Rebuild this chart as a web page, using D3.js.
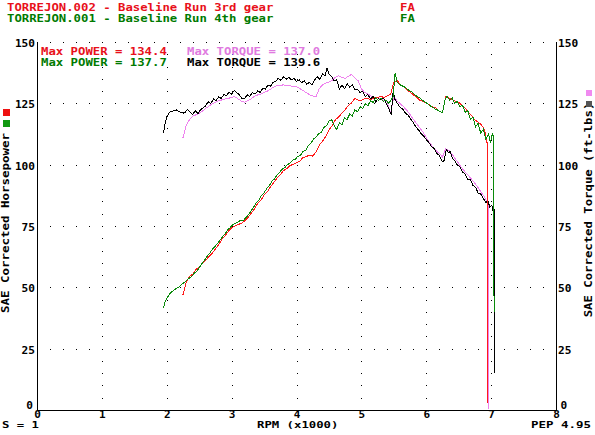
<!DOCTYPE html>
<html><head><meta charset="utf-8">
<script src="https://cdn.jsdelivr.net/npm/d3@7"></script>
<style>
body{margin:0;background:#fff}
svg{display:block}
text{font-family:"DejaVu Sans Mono",monospace;font-weight:bold}
</style>
</head><body>
<svg id="c" width="595" height="435"></svg>
<script>
// ---------- data ----------
const titles = ["TORREJON.002 - Baseline Run 3rd gear", "TORREJON.001 - Baseline Run 4th gear"];
const maxPower = ["Max POWER = 134.4", "Max POWER = 137.7"];
const maxTorque = ["Max TORQUE = 137.0", "Max TORQUE = 139.6"];
const xTicks = [0,1,2,3,4,5,6,7,8];
const yTicks = [0,25,50,75,100,125,150];

// 3rd gear (TORREJON.002)
const rpm3 = [2.25,2.30,2.35,2.40,2.45,2.50,2.55,2.60,2.65,2.70,
  2.75,2.80,2.85,2.90,2.95,3.00,3.05,3.10,3.15,3.20,
  3.25,3.30,3.35,3.40,3.45,3.50,3.55,3.60,3.65,3.70,
  3.75,3.80,3.85,3.90,3.95,4.00,4.05,4.10,4.15,4.20,
  4.25,4.30,4.35,4.40,4.45,4.50,4.55,4.60,4.65,4.70,
  4.75,4.80,4.85,4.90,4.95,5.00,5.05,5.10,5.15,5.20,
  5.25,5.30,5.35,5.40,5.45,5.50,5.55,5.60,5.65,5.70,
  5.75,5.80,5.85,5.90,5.95,6.00,6.05,6.10,6.15,6.20,
  6.25,6.30,6.35,6.40,6.45,6.50,6.55,6.60,6.65,6.70,
  6.75,6.80,6.85,6.90];
const hp3 = [47,52,54.5,55.3,57.2,58.4,59.8,60.9,62.6,63.9,
  65.7,67.4,69.5,71.1,72.8,74.3,74.9,75.6,76.1,77.1,
  78.4,80.1,81.9,84.1,85.4,87.6,88.9,91.1,92.7,94.6,
  95.9,97.6,98.4,99.6,100.2,100.7,101.4,102.9,103.3,103.9,
  103.5,105.1,107.9,109.6,111.4,114.1,115.9,118.3,119.4,121.1,
  122.4,124.1,125.2,127.1,126.3,126.3,126.9,126.9,126.6,127.3,
  127.4,127.9,127.3,128,128.7,133.6,134.3,132.7,131.9,130.5,
  129.6,128.5,127.6,126.2,125.9,125.1,124.4,123.5,123.1,121.9,
  121.1,127.6,127.1,126.6,125.9,125.4,124.3,123.1,121.3,119.9,
  118.3,117.3,116.3,114.2];
const hp3TailRpm = [6.93,6.94,6.94];
const hp3Tail = [109.5,108.8,3];
const tq3 = [111,116,118.3,119.8,120.3,121,121.8,123,123.8,124.8,
  125.5,126,126.4,126.8,127,127.5,127.7,126.8,125.9,125.5,
  126.2,126.8,127.8,128.4,128.8,129.4,130,130.8,131.6,132.2,
  132.4,132.5,132.3,132.1,132,131.8,131,130.2,129.4,128.5,
  128,127.6,131,132.5,133.2,133.6,134.4,135.6,136.2,135.6,
  135.2,136,136.8,135.4,134.2,131,129.4,128.8,128,127.4,
  127.2,126.8,126.2,125.4,121,127.5,126,124.8,123.6,122.2,
  120.5,118.5,116.8,115,113.2,111,108.8,107.4,105.8,104.6,
  103.2,106.5,105.8,104.2,102.2,100.5,98.6,97,95.6,94,
  92.4,90.6,88.6,86.8];
const tq3TailRpm = [6.94,6.96,6.965];
const tq3Tail = [84.5,83,0.5];

// 4th gear (TORREJON.001)
const rpmTq4 = [1.95,1.97,2.00,2.05,2.10,2.15,2.20,2.25,2.28,2.32,
  2.36,2.40,2.44,2.48,2.52,2.56,2.60,2.64,2.68,2.72,
  2.76,2.80,2.84,2.88,2.92,2.96,3.00,3.04,3.08,3.12,
  3.16,3.20,3.24,3.28,3.32,3.36,3.40,3.44,3.48,3.52,
  3.56,3.60,3.64,3.68,3.72,3.76,3.80,3.84,3.88,3.92,
  3.96,4.00,4.04,4.08,4.12,4.16,4.20,4.24,4.28,4.32,
  4.36,4.40,4.44,4.47,4.50,4.54,4.58,4.62,4.66,4.70,
  4.74,4.78,4.82,4.86,4.90,4.94,4.98,5.02,5.06,5.10,
  5.14,5.18,5.22,5.26,5.30,5.34,5.38,5.42,5.46,5.49,
  5.52,5.56,5.60,5.64,5.68,5.72,5.76,5.80,5.84,5.88,
  5.92,5.96,6.00,6.04,6.08,6.12,6.16,6.20,6.24,6.27,
  6.31,6.34,6.37,6.40,6.44,6.48,6.52,6.56,6.60,6.64,
  6.68,6.72,6.76,6.80,6.84,6.88,6.92,6.95,6.98,7.01,
  7.03,7.04,7.05,7.05];
const tq4 = [112.8,116,119.6,121.6,121.9,122.3,121.5,121,121.2,122.5,
  121.5,120.4,122,120.8,122.4,123.2,124,125.6,125,126.8,
  126.2,127.6,127,128.6,128.2,129.4,128.8,130.2,129.4,128.4,
  127,126.8,128.5,127.8,129.4,128.8,130,129.5,131,130.8,
  132.4,132,133.6,134,135.2,134.4,135.8,134.8,135.6,134.6,
  135.2,134,134.6,133.4,134.2,132.8,133.6,132.4,134.6,135.8,
  134.8,137,136.2,139.4,137,136,134.2,134.6,130.8,132.4,
  131,133,131.6,132.6,130.4,130.8,129.4,130,127.8,128.6,
  126.8,127.8,125.6,127,126.4,127.2,125,123,120.3,130,
  126.4,124.8,123.2,122.6,121,120.2,118.6,117.2,115.4,114.2,
  112.6,111.6,110.2,109,107.4,106.6,104.6,103.8,101.6,101.2,
  106.2,104.8,105.4,102.8,101.6,99.8,99.2,97,96.2,94,
  93.8,91.6,90.8,88.4,88,86.2,84.6,85.4,82.6,83.4,
  81.2,82,81.5,15];
const rpmHp4 = [1.95,1.98,2.02,2.06,2.10,2.14,2.18,2.22,2.26,2.30,
  2.34,2.38,2.42,2.46,2.50,2.54,2.58,2.62,2.66,2.70,
  2.74,2.78,2.82,2.86,2.90,2.94,2.98,3.02,3.06,3.10,
  3.14,3.18,3.22,3.26,3.30,3.34,3.38,3.42,3.46,3.50,
  3.54,3.58,3.62,3.66,3.70,3.74,3.78,3.82,3.86,3.90,
  3.94,3.98,4.02,4.06,4.10,4.14,4.18,4.22,4.26,4.30,
  4.34,4.38,4.42,4.46,4.50,4.54,4.58,4.62,4.66,4.70,
  4.74,4.78,4.82,4.86,4.90,4.94,4.98,5.02,5.06,5.10,
  5.14,5.18,5.22,5.26,5.30,5.34,5.38,5.42,5.46,5.49,
  5.52,5.55,5.58,5.62,5.66,5.70,5.74,5.78,5.82,5.86,
  5.90,5.94,5.98,6.02,6.06,6.10,6.14,6.18,6.22,6.25,
  6.29,6.32,6.36,6.40,6.44,6.48,6.52,6.56,6.60,6.64,
  6.68,6.72,6.76,6.80,6.84,6.88,6.92,6.96,6.99,7.02,
  7.04,7.045];
const hp4 = [41.6,44.5,46.3,47.8,48.6,49.4,50,51,51.8,52.6,
  53.6,54.4,55.6,56.5,58,59.6,61,62.6,63.8,65.4,
  66.6,67.8,69.2,70.6,71.8,73.4,74.4,75.6,76.2,76.6,
  77.4,77.2,78.4,79.6,81.2,82.8,84.4,85.6,87.4,88.6,
  90.2,91.4,93.2,94.2,95.8,96.8,98.2,98.8,100,100.6,
  101.8,102.2,103.4,103.8,105.4,105.8,107.6,108.6,110.4,111.2,
  112.6,113.2,115.2,115.8,117.8,118.4,116,114.2,117,116.2,
  119,118.4,120.6,119.8,122.4,121.6,123.6,122.8,124.8,124,
  126,125.4,127.2,126.2,127,125.8,126.4,125,126.4,127.8,
  137.4,133.6,132.8,132.2,131.8,131,130.2,129.6,128.6,127.8,
  127.2,126.2,125.6,124.8,124,123.4,122.6,122.2,121.6,121.2,
  126.4,127.8,126.4,127.2,125,125.8,123.6,124.2,121.4,122,
  118.6,119.4,115.4,116.8,112.8,114.4,110.4,112.6,108.8,113,
  110.6,40];

// ---------- layout ----------
const svg = d3.select("#c");
const x = d3.scaleLinear().domain([0,8]).range([37,556]);
const y = d3.scaleLinear().domain([0,150]).range([410,42]);
const CW = 7.4; // character cell width
const RED="#e8101a", GREEN="#007a00", PINK="#e07ae0", BLACK="#000";
const LRED="#ff1a1a", LGREEN="#0a8a0a", LPINK="#ee82ee";

function txt(str, xx, yy, color, size, anchor, cw){
  return svg.append("text").attr("x",xx).attr("y",yy).attr("fill",color)
    .attr("font-size",size).attr("text-anchor",anchor||"start")
    .attr("textLength",str.length*(cw||CW)).attr("lengthAdjust","spacingAndGlyphs")
    .text(str);
}

// grid dots
const gGrid = svg.append("g").attr("fill","#000");
const rowLevels = yTicks.filter(v=>v>0);
const rowX = d3.range(1,40).map(i=>i/5);
rowLevels.forEach(v=>{
  rowX.forEach(r=>{
    gGrid.append("rect").attr("x",Math.round(x(r))).attr("y",Math.round(y(v))).attr("width",1).attr("height",1);
  });
});
const colX = [1,2,3,4,5,6,7];
const colY = d3.range(1,30).map(i=>i*5);
colX.forEach(r=>{
  colY.forEach(v=>{
    gGrid.append("rect").attr("x",Math.round(x(r))).attr("y",Math.round(y(v))).attr("width",1).attr("height",1);
  });
});

// axes lines
svg.append("line").attr("x1",x(0)+0.5).attr("x2",x(0)+0.5).attr("y1",y(150)).attr("y2",y(0)).attr("stroke","#000");
svg.append("line").attr("x1",x(8)+0.5).attr("x2",x(8)+0.5).attr("y1",y(150)).attr("y2",y(0)).attr("stroke","#000");
svg.append("line").attr("x1",x(0)).attr("x2",x(8)+1).attr("y1",y(0)+0.5).attr("y2",y(0)+0.5).attr("stroke","#000");

// tick labels via d3 axes
const gx = svg.append("g").attr("transform",`translate(0,${y(0)})`)
  .call(d3.axisBottom(x).tickValues(xTicks).tickSize(0).tickFormat(d3.format("d")));
gx.select(".domain").remove();
gx.selectAll("text").attr("y",7.5).attr("dy",0).attr("font-size",11)
  .attr("font-family","DejaVu Sans Mono").attr("font-weight","bold").attr("fill","#000");

const gl = svg.append("g").attr("transform",`translate(${x(0)},0)`)
  .call(d3.axisLeft(y).tickValues(yTicks).tickSize(0).tickPadding(2));
gl.select(".domain").remove();
gl.selectAll("text").attr("dy",0).attr("y",d=>d===0?-2:4.5).attr("x",d=>d===0?-4:-2).attr("font-size",10)
  .attr("fill","#000").attr("font-family","DejaVu Sans Mono").attr("font-weight","bold")
  .attr("textLength",d=>String(d).length*6.7).attr("lengthAdjust","spacingAndGlyphs");

const gr = svg.append("g").attr("transform",`translate(${x(8)},0)`)
  .call(d3.axisRight(y).tickValues(yTicks).tickSize(0).tickPadding(2));
gr.select(".domain").remove();
gr.selectAll("text").attr("dy",0).attr("y",d=>d===0?-2:4.5).attr("x",d=>d===0?4.5:2).attr("font-size",10)
  .attr("fill","#000").attr("font-family","DejaVu Sans Mono").attr("font-weight","bold")
  .attr("textLength",d=>String(d).length*6.7).attr("lengthAdjust","spacingAndGlyphs");

// curves
const line = d3.line().x(d=>x(d[0])).y(d=>y(d[1]));
const series = [
  {rpm: rpm3.concat(tq3TailRpm), val: tq3.concat(tq3Tail), color: LPINK},
  {rpm: rpmTq4, val: tq4, color: BLACK},
  {rpm: rpm3.concat(hp3TailRpm), val: hp3.concat(hp3Tail), color: LRED},
  {rpm: rpmHp4, val: hp4, color: LGREEN}
];
series.forEach(s=>{
  svg.append("path").datum(d3.zip(s.rpm, s.val)).attr("d",line)
    .attr("fill","none").attr("stroke",s.color).attr("stroke-width",1)
    .attr("shape-rendering","crispEdges");
});

// titles
txt(titles[0], 7, 10.5, RED, 10);
txt(titles[1], 7, 21.5, GREEN, 10);
txt("FA", 400, 10.5, RED, 10);
txt("FA", 400, 21.5, GREEN, 10);

// in-plot legend text
txt(maxPower[0], 41, 54.5, RED, 10);
txt(maxPower[1], 41, 65.5, GREEN, 10);
txt(maxTorque[0], 187, 54.5, PINK, 10);
txt(maxTorque[1], 187, 65.5, BLACK, 10);

// bottom texts
txt("S = 1", 2, 428, "#000", 9.5);
txt("RPM (x1000)", 257, 428, "#000", 9.5);
txt("PEP 4.95", 531, 428, "#000", 9.5, "start", 7.5);

// axis titles
svg.append("text").attr("transform","translate(9,223) rotate(-90)").attr("text-anchor","middle")
  .attr("font-size",10).attr("fill","#000")
  .attr("textLength",24*7.5).attr("lengthAdjust","spacingAndGlyphs")
  .text("SAE Corrected Horsepower");
svg.append("text").attr("transform","translate(592,210) rotate(-90)").attr("text-anchor","middle")
  .attr("font-size",10).attr("fill","#000")
  .attr("textLength",29*7.4).attr("lengthAdjust","spacingAndGlyphs")
  .text("SAE Corrected Torque (ft-lbs)");

// legend squares
svg.append("rect").attr("x",3).attr("y",109).attr("width",7).attr("height",7).attr("fill","#ee1111");
svg.append("rect").attr("x",3).attr("y",120).attr("width",7).attr("height",7).attr("fill","#119911");
svg.append("rect").attr("x",586).attr("y",90).attr("width",6).attr("height",6).attr("fill","#f08af0");
svg.append("rect").attr("x",586).attr("y",101).attr("width",6).attr("height",6).attr("fill","#555");
</script>
</body></html>
